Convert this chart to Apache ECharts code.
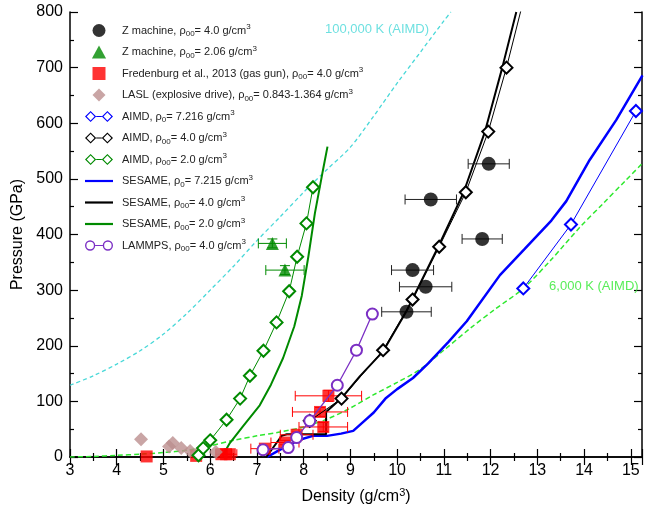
<!DOCTYPE html>
<html>
<head>
<meta charset="utf-8">
<script src="https://cdn.jsdelivr.net/npm/echarts@6.0.0/dist/echarts.min.js"></script>
<style>html,body{margin:0;padding:0;background:#fff;}#c{width:651px;height:505px;}</style>
</head>
<body>
<div id="c"></div>
<script>
// ---------- data (density g/cm3, pressure GPa) ----------
const xTicks = [3,4,5,6,7,8,9,10,11,12,13,14,15];
const yTicks = [0,100,200,300,400,500,600,700,800];

// Z machine rho00=4.0 : [x, P, xerr, yerr]
const zMachine4 = [[10.20,261,0.53,0],[10.61,306,0.56,0],[10.33,336,0.45,0],[11.82,392,0.43,0],[10.72,463,0.55,0],[11.96,527,0.44,0]];
// Z machine rho00=2.06
const zMachine206 = [[7.33,384,0.30,8],[7.60,336,0.41,8]];
// Fredenburg et al. 2013 (gas gun)
const fredenburg = [[4.64,1,0,0],[5.70,2,0,0],[6.24,5,0.12,0],[6.34,5,0.12,0],[6.42,5,0.15,0],[7.17,15,0.30,0],[7.60,26,0.30,4],[7.85,40,0.35,5],[8.42,54,0.52,8],[8.35,81,0.59,8],[8.53,110,0.71,10]];
// LASL (explosive drive)
const lasl = [[4.52,32],[5.12,19],[5.20,25],[5.38,16],[5.57,11],[5.72,6],[6.12,9]];
// AIMD rho0=7.216
const aimd7 = [[12.70,303],[13.72,418],[15.11,622]];
// AIMD rho00=4.0
const aimd4 = [[8.13,65],[8.81,105],[9.70,192],[10.33,283],[10.90,378],[11.47,476],[11.95,585],[12.34,700],[12.70,820]];
// AIMD rho00=2.0
const aimd2 = [[5.75,3],[5.85,16],[6.00,30],[6.35,67],[6.64,105],[6.85,146],[7.14,191],[7.42,242],[7.69,298],[7.86,360],[8.06,420],[8.20,485]];
// SESAME rho0=7.215
const sesame7 = [[7.22,0],[7.45,11],[7.66,21],[7.95,32],[8.20,38],[8.50,38],[8.80,42],[9.06,47],[9.30,65],[9.50,80],[9.75,105],[10.00,122],[10.34,142],[10.66,168],[11.10,207],[11.49,244],[12.20,327],[12.73,374],[13.30,425],[13.62,460],[14.12,534],[14.69,606],[15.25,686]];
// SESAME rho00=4.0
const sesame4 = [[7.20,0],[7.53,38],[7.64,41],[8.48,41],[8.48,81],[8.80,105],[9.20,145],[9.70,190],[10.20,262],[10.88,378],[11.42,475],[11.88,585],[12.25,700],[12.55,800]];
// SESAME rho00=2.0
const sesame2 = [[6.25,0],[6.42,25],[6.70,55],[7.06,93],[7.30,130],[7.56,178],[7.80,235],[7.96,290],[8.10,360],[8.24,438],[8.40,510],[8.51,558]];
// LAMMPS rho00=4.0
const lammps = [[7.13,13],[7.67,17],[7.85,35],[8.13,65],[8.72,129],[9.13,192],[9.47,257]];
// 100,000 K (AIMD) isotherm
const iso100k = [[3.0,129],[3.5,146],[4.0,167],[4.5,191],[5.0,221],[5.5,258],[6.0,300],[6.5,343],[7.0,389],[7.5,432],[8.0,476],[8.5,517],[9.0,557],[9.5,613],[10.0,672],[10.5,728],[11.0,784],[11.15,800]];
// 6,000 K (AIMD) isotherm
const iso6k = [[3.0,0],[3.5,1],[4.0,3],[4.5,5],[5.0,8],[5.5,12],[6.0,20],[6.5,30],[7.0,38],[7.5,45],[8.0,54],[8.5,68],[9.0,88],[9.5,112],[10.0,134],[10.5,158],[11.0,192],[11.56,231],[12.1,266],[12.7,303],[13.3,355],[13.9,412],[14.4,455],[14.9,498],[15.25,528]];
// annotation texts and their data positions
const isoLabels = [['100,000 K (AIMD)', 9.57, 768], ['6,000 K (AIMD)', 14.21, 306]];

// legend labels
const L = {
  zm4: 'Z machine, ρ{s|00}= 4.0 g/cm{p|3}',
  zm206: 'Z machine, ρ{s|00}= 2.06 g/cm{p|3}',
  fred: 'Fredenburg et al., 2013 (gas gun), ρ{s|00}= 4.0 g/cm{p|3}',
  lasl: 'LASL (explosive drive), ρ{s|00}= 0.843-1.364 g/cm{p|3}',
  aimd7: 'AIMD, ρ{s|0}= 7.216 g/cm{p|3}',
  aimd4: 'AIMD, ρ{s|00}= 4.0 g/cm{p|3}',
  aimd2: 'AIMD, ρ{s|00}= 2.0 g/cm{p|3}',
  ses7: 'SESAME, ρ{s|0}= 7.215 g/cm{p|3}',
  ses4: 'SESAME, ρ{s|00}= 4.0 g/cm{p|3}',
  ses2: 'SESAME, ρ{s|00}= 2.0 g/cm{p|3}',
  lammps: 'LAMMPS, ρ{s|00}= 4.0 g/cm{p|3}'
};

const GREEN = '#008a00', BLUE = '#0000ff', RED = '#ff0000', PURPLE = '#7b2fc4', CYAN = '#48d8d8', LIME = '#2ee82e', ROSY = '#bc8f8f';
const FONT = '"Liberation Sans", Arial, sans-serif';

// legend icon shapes (box 30 x 12)
function ringDiamond(cx) {
  return 'M' + (cx - 6) + ',6 L' + cx + ',0 L' + (cx + 6) + ',6 L' + cx + ',12 Z ' +
         'M' + (cx - 4.2) + ',6 L' + cx + ',10.2 L' + (cx + 4.2) + ',6 L' + cx + ',1.8 Z ';
}
function ringCircle(cx) {
  return 'M' + (cx - 5.5) + ',6 A5.5,5.5 0 1,1 ' + (cx + 5.5) + ',6 A5.5,5.5 0 1,1 ' + (cx - 5.5) + ',6 Z ' +
         'M' + (cx - 4) + ',6 A4,4 0 1,0 ' + (cx + 4) + ',6 A4,4 0 1,0 ' + (cx - 4) + ',6 Z ';
}
const ICON_AIMD = 'path://' + ringDiamond(6) + 'M12,5.4 L18,5.4 L18,6.6 L12,6.6 Z ' + ringDiamond(24);
const ICON_LAMMPS = 'path://' + ringCircle(5.5) + 'M11,5.4 L19,5.4 L19,6.6 L11,6.6 Z ' + ringCircle(24.5);
const ICON_LINE = 'path://M0,0 L28,0 L28,2.2 L0,2.2 Z';
const ICON_TRI = 'path://M6,0 L12,11 L0,11 Z';
const ICON_SQ = 'path://M0,0 L10,0 L10,10 L0,10 Z';
const ICON_DIA = 'path://M6,0 L12,6 L6,12 L0,6 Z';
const ICON_CIRC = 'path://M0,7 A7,7 0 1,1 14,7 A7,7 0 1,1 0,7 Z';

function errRender(color) {
  return function (params, api) {
    const x = api.value(0), y = api.value(1), ex = api.value(2), ey = api.value(3);
    const ch = [];
    const st = { stroke: color, lineWidth: 1 };
    if (ex > 0) {
      const a = api.coord([x - ex, y]), b = api.coord([x + ex, y]);
      ch.push({ type: 'line', shape: { x1: a[0], y1: a[1], x2: b[0], y2: b[1] }, style: st });
      ch.push({ type: 'line', shape: { x1: a[0], y1: a[1] - 5, x2: a[0], y2: a[1] + 5 }, style: st });
      ch.push({ type: 'line', shape: { x1: b[0], y1: b[1] - 5, x2: b[0], y2: b[1] + 5 }, style: st });
    }
    if (ey > 0) {
      const a = api.coord([x, y - ey]), b = api.coord([x, y + ey]);
      ch.push({ type: 'line', shape: { x1: a[0], y1: a[1], x2: b[0], y2: b[1] }, style: st });
      ch.push({ type: 'line', shape: { x1: a[0] - 5, y1: a[1], x2: a[0] + 5, y2: a[1] }, style: st });
      ch.push({ type: 'line', shape: { x1: b[0] - 5, y1: b[1], x2: b[0] + 5, y2: b[1] }, style: st });
    }
    return { type: 'group', children: ch };
  };
}
function errSeries(data, color) {
  return { type: 'custom', data: data, renderItem: errRender(color), encode: { x: 0, y: 1 }, z: 3, silent: true, clip: true };
}

const axisCommon = {
  axisLine: { show: true, lineStyle: { color: '#000', width: 1.5 } },
  axisTick: { show: true, inside: true, length: 8, lineStyle: { color: '#000', width: 1.2 } },
  minorTick: { show: true, splitNumber: 2, length: 4, lineStyle: { color: '#000', width: 1.2 } },
  splitLine: { show: false }
};

const chart = echarts.init(document.getElementById('c'), null, { renderer: 'canvas' });
const option = {
  animation: false,
  backgroundColor: '#fff',
  textStyle: { fontFamily: FONT },
  grid: { left: 70, right: 9, top: 12, bottom: 48, containLabel: false, outerBoundsMode: 'none' },
  xAxis: [
    Object.assign({}, axisCommon, {
      type: 'value', min: xTicks[0], max: 15.24, interval: 1,
      name: 'Density (g/cm{p|3})', nameLocation: 'middle', nameGap: 30,
      nameTextStyle: { fontSize: 16, color: '#000', fontFamily: FONT, rich: { p: { fontSize: 11, padding: [0, 0, 9, 0], fontFamily: FONT } } },
      axisLabel: { fontSize: 16, color: '#000', margin: 6, fontFamily: FONT,
        formatter: v => (xTicks.indexOf(v) >= 0 ? String(v) : '') }
    }),
    Object.assign({}, axisCommon, {
      type: 'value', position: 'top', min: xTicks[0], max: 15.24, interval: 1,
      axisLabel: { show: false }
    })
  ],
  yAxis: [
    Object.assign({}, axisCommon, {
      type: 'value', min: yTicks[0], max: yTicks[yTicks.length - 1], interval: 100,
      name: 'Pressure (GPa)', nameLocation: 'middle', nameGap: 44,
      nameTextStyle: { fontSize: 16, color: '#000', fontFamily: FONT },
      axisLabel: { fontSize: 16, color: '#000', margin: 7, fontFamily: FONT }
    }),
    Object.assign({}, axisCommon, {
      type: 'value', position: 'right', min: yTicks[0], max: yTicks[yTicks.length - 1], interval: 100,
      axisLabel: { show: false }
    })
  ],
  legend: {
    orient: 'vertical', left: 80, top: 18, itemWidth: 28, itemHeight: 13, itemGap: 6.5,
    symbolKeepAspect: true,
    itemStyle: { borderWidth: 0 },
    data: [
      { name: 'zm4', icon: ICON_CIRC }, { name: 'zm206', icon: ICON_TRI }, { name: 'fred', icon: ICON_SQ },
      { name: 'lasl', icon: ICON_DIA }, { name: 'aimd7', icon: ICON_AIMD }, { name: 'aimd4', icon: ICON_AIMD },
      { name: 'aimd2', icon: ICON_AIMD }, { name: 'ses7', icon: ICON_LINE }, { name: 'ses4', icon: ICON_LINE },
      { name: 'ses2', icon: ICON_LINE }, { name: 'lammps', icon: ICON_LAMMPS }
    ],
    formatter: n => L[n],
    textStyle: { fontSize: 11, color: '#222', fontFamily: FONT, padding: [0, 0, 0, 4],
      rich: { s: { fontSize: 8, padding: [7, 0, 0, 0], fontFamily: FONT, color: '#222' },
              p: { fontSize: 8, padding: [0, 0, 7, 0], fontFamily: FONT, color: '#222' } } },
    selectedMode: false
  },
  series: [
    { name: 'iso100k', type: 'line', data: iso100k, showSymbol: false, symbol: 'none', smooth: 0.3,
      lineStyle: { color: CYAN, width: 1.3, type: [4, 3] }, z: 1, clip: true },
    { name: 'iso6k', type: 'line', data: iso6k, showSymbol: false, symbol: 'none', smooth: 0.3,
      lineStyle: { color: LIME, width: 1.5, type: [5, 3] }, z: 1, clip: true },
    { name: 'isoLabels', type: 'scatter', symbol: 'circle', symbolSize: 1, silent: true,
      itemStyle: { color: 'rgba(0,0,0,0)' },
      data: isoLabels.map((d, i) => ({ value: [d[1], d[2]],
        label: { show: true, position: 'inside', formatter: d[0], fontSize: 13, fontFamily: FONT, color: i === 0 ? CYAN : LIME } })),
      z: 1 },
    { name: 'ses7', type: 'line', data: sesame7, symbol: 'none', lineStyle: { color: BLUE, width: 2.5 }, itemStyle: { color: BLUE }, z: 2, clip: true },
    { name: 'ses4', type: 'line', data: sesame4, symbol: 'none', lineStyle: { color: '#000', width: 2 }, itemStyle: { color: '#000' }, z: 2, clip: true },
    { name: 'ses2', type: 'line', data: sesame2, symbol: 'none', lineStyle: { color: GREEN, width: 2 }, itemStyle: { color: GREEN }, z: 2, clip: true },
    errSeries(zMachine4, '#222'),
    errSeries(zMachine206, GREEN),
    errSeries(fredenburg, RED),
    { name: 'fred', type: 'scatter', data: fredenburg.map(d => [d[0], d[1]]), symbol: 'rect', symbolSize: 12, itemStyle: { color: RED }, z: 4, clip: true },
    { name: 'lasl', type: 'scatter', data: lasl, symbol: 'diamond', symbolSize: 14, itemStyle: { color: ROSY }, z: 4, clip: true },
    { name: 'aimd7', type: 'line', data: aimd7, symbol: 'emptyDiamond', symbolSize: 12, lineStyle: { color: BLUE, width: 1 },
      itemStyle: { color: BLUE, borderWidth: 2 }, z: 5, clip: true },
    { name: 'aimd4', type: 'line', data: aimd4, symbol: 'emptyDiamond', symbolSize: 12, lineStyle: { color: '#000', width: 1 },
      itemStyle: { color: '#000', borderWidth: 2 }, z: 5, clip: true },
    { name: 'aimd2', type: 'line', data: aimd2, symbol: 'emptyDiamond', symbolSize: 12, lineStyle: { color: GREEN, width: 1 },
      itemStyle: { color: GREEN, borderWidth: 2 }, z: 5, clip: true },
    { name: 'lammps', type: 'line', data: lammps, symbol: 'emptyCircle', symbolSize: 11, lineStyle: { color: PURPLE, width: 1.3 },
      itemStyle: { color: PURPLE, borderWidth: 1.5 }, z: 6, clip: true },
    { name: 'zm206', type: 'scatter', data: zMachine206.map(d => [d[0], d[1]]), symbol: 'triangle', symbolSize: 13, itemStyle: { color: GREEN }, z: 7, clip: true },
    { name: 'zm4', type: 'scatter', data: zMachine4.map(d => [d[0], d[1]]), symbol: 'circle', symbolSize: 14, itemStyle: { color: '#000' }, z: 7, clip: true }
  ]
};
chart.setOption(option);
</script>
</body>
</html>
